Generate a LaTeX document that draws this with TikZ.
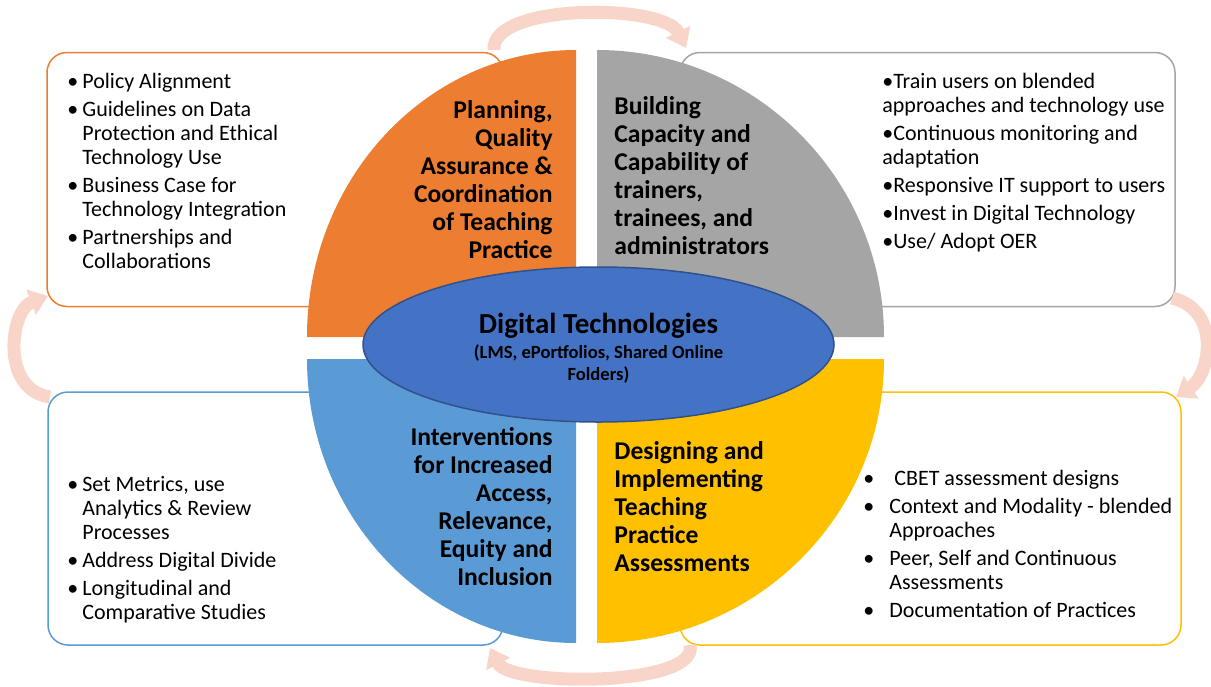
\documentclass[tikz,border=0pt]{standalone}
\usepackage{fontspec}
\setmainfont{Carlito}
\usetikzlibrary{shapes,arrows.meta,calc}
\definecolor{myorange}{RGB}{237,125,49}
\definecolor{mygray}{RGB}{165,165,165}
\definecolor{mylightblue}{RGB}{91,155,213}
\definecolor{mygold}{RGB}{255,192,0}
\definecolor{myblue}{RGB}{68,114,196}
\definecolor{myblueborder}{RGB}{47,82,143}
\definecolor{mypink}{RGB}{248,213,200}

\begin{document}
\begin{tikzpicture}[x=0.5pt,y=-0.5pt]

\tikzstyle{box} = [draw, rounded corners=10pt, fill=white, line width=0.75pt, inner sep=0, outer sep=0]
\tikzstyle{body-t} = [inner sep=0, font=\fontsize{11}{12}\selectfont]
\tikzstyle{title-t} = [inner sep=0, font=\fontsize{12.8}{14}\selectfont\bfseries]
\tikzstyle{cycle-arrow} = [draw=mypink, line width=6.5pt, -{Triangle[length=9pt,width=13pt]}]

\useasboundingbox (0,0) rectangle (1211,686);

\node [box, draw=myorange, minimum width=228pt, minimum height=127pt] (planbox) at (275,179.5) {};
\node [box, draw=mygray, minimum width=247.5pt, minimum height=127pt] (buildbox) at (927.5,179.5) {};
\node [box, draw=mylightblue, minimum width=227.5pt, minimum height=126.5pt] (interbox) at (275.5,518.5) {};
\node [box, draw=mygold, minimum width=250.5pt, minimum height=126.5pt] (designbox) at (930.5,518.5) {};


\draw [cycle-arrow] ([xshift=-4.5pt,yshift=1.25pt]planbox.north east) .. controls (490,3) and (664,3) .. ([xshift=3pt,yshift=2.25pt]buildbox.north west);
\draw [cycle-arrow] ([xshift=-1.5pt,yshift=4.25pt]buildbox.south east) .. controls (1222,310) and (1210,375) .. ([xshift=-2.5pt,yshift=-2.5pt]designbox.north east);
\draw [cycle-arrow] ([xshift=5pt]designbox.south west) .. controls (700,687) and (510,687) .. ([xshift=-6.5pt,yshift=-1.5pt]interbox.south east);
\draw [cycle-arrow] ([xshift=1pt,yshift=-2.5pt]interbox.north west) .. controls (0,390) and (10,310) .. ([xshift=0.5pt,yshift=5.25pt]planbox.south west);


\fill [myorange] (576,337) -- (307,337) arc[start angle=180,end angle=270,x radius=269,y radius=287] -- cycle;
\fill [mygray] (597,337) -- (884,337) arc[start angle=0,end angle=-90,x radius=287,y radius=287] -- cycle;
\fill [mylightblue] (576,359) -- (307,359) arc[start angle=180,end angle=90,x radius=269,y radius=284] -- cycle;
\fill [mygold] (597,359) -- (884,359) arc[start angle=0,end angle=90,x radius=287,y radius=284] -- cycle;

\node [ellipse, draw=myblueborder, fill=myblue, line width=0.75pt, minimum width=235.5pt, minimum height=77.5pt, inner sep=0, text height=10pt, text depth=21.5pt, font=\fontsize{14.5}{12.5}\selectfont\bfseries] (digi) at (598.5,344.5) {\begin{tabular}[t]{@{}c@{}} Digital Technologies\\ {\fontsize{9.3}{11}\selectfont\begin{tabular}[t]{@{}c@{}} (LMS, ePortfolios, Shared Online\\ Folders)\end{tabular}}\end{tabular}};


\node [title-t, anchor=base east] (plan) at (553,118) {\begin{tabular}[t]{@{}r@{}} Planning,\\ Quality\\ Assurance \&\\ Coordination\\ of Teaching\\ Practice\end{tabular}};

\node [title-t, anchor=base west] (build) at (614,114) {\begin{tabular}[t]{@{}l@{}} Building\\ Capacity and\\ Capability of\\ trainers,\\ trainees, and\\ administrators\end{tabular}};

\node [title-t, anchor=base east] (inter) at (553,445) {\begin{tabular}[t]{@{}r@{}} Interventions\\ for Increased\\ Access,\\ Relevance,\\ Equity and\\ Inclusion\end{tabular}};

\node [title-t, anchor=base west] (design) at (614,459) {\begin{tabular}[t]{@{}l@{}} Designing and\\ Implementing\\ Teaching\\ Practice\\ Assessments\end{tabular}};


\node [body-t, anchor=base west] (plantext) at (67,88) {\begin{tabular}[t]{@{}p{7.5pt}@{}l@{}} • & Policy Alignment\\[2pt] • & Guidelines on Data\\ & Protection and Ethical\\ & Technology Use\\[2pt] • & Business Case for\\ & Technology Integration\\[2pt] • & Partnerships and\\ & Collaborations\end{tabular}};

\node [body-t, anchor=base west] (buildtext) at (882,88) {\begin{tabular}[t]{@{}l@{}} •Train users on blended\\ approaches and technology use\\[2pt] •Continuous monitoring and\\ adaptation\\[2pt] •Responsive IT support to users\\[2pt] •Invest in Digital Technology\\[2pt] •Use/ Adopt OER\end{tabular}};

\node [body-t, anchor=base west] (intertext) at (67,491) {\begin{tabular}[t]{@{}p{7.5pt}@{}l@{}} • & Set Metrics, use\\ & Analytics \& Review\\ & Processes\\[2pt] • & Address Digital Divide\\[2pt] • & Longitudinal and\\ & Comparative Studies\end{tabular}};

\node [body-t, anchor=base west] (designtext) at (863,485) {\begin{tabular}[t]{@{}p{13pt}@{}l@{}} • & ~CBET assessment designs\\[2pt] • & Context and Modality - blended\\ & Approaches\\[2pt] • & Peer, Self and Continuous\\ & Assessments\\[2pt] • & Documentation of Practices\end{tabular}};

\end{tikzpicture}
\end{document}
